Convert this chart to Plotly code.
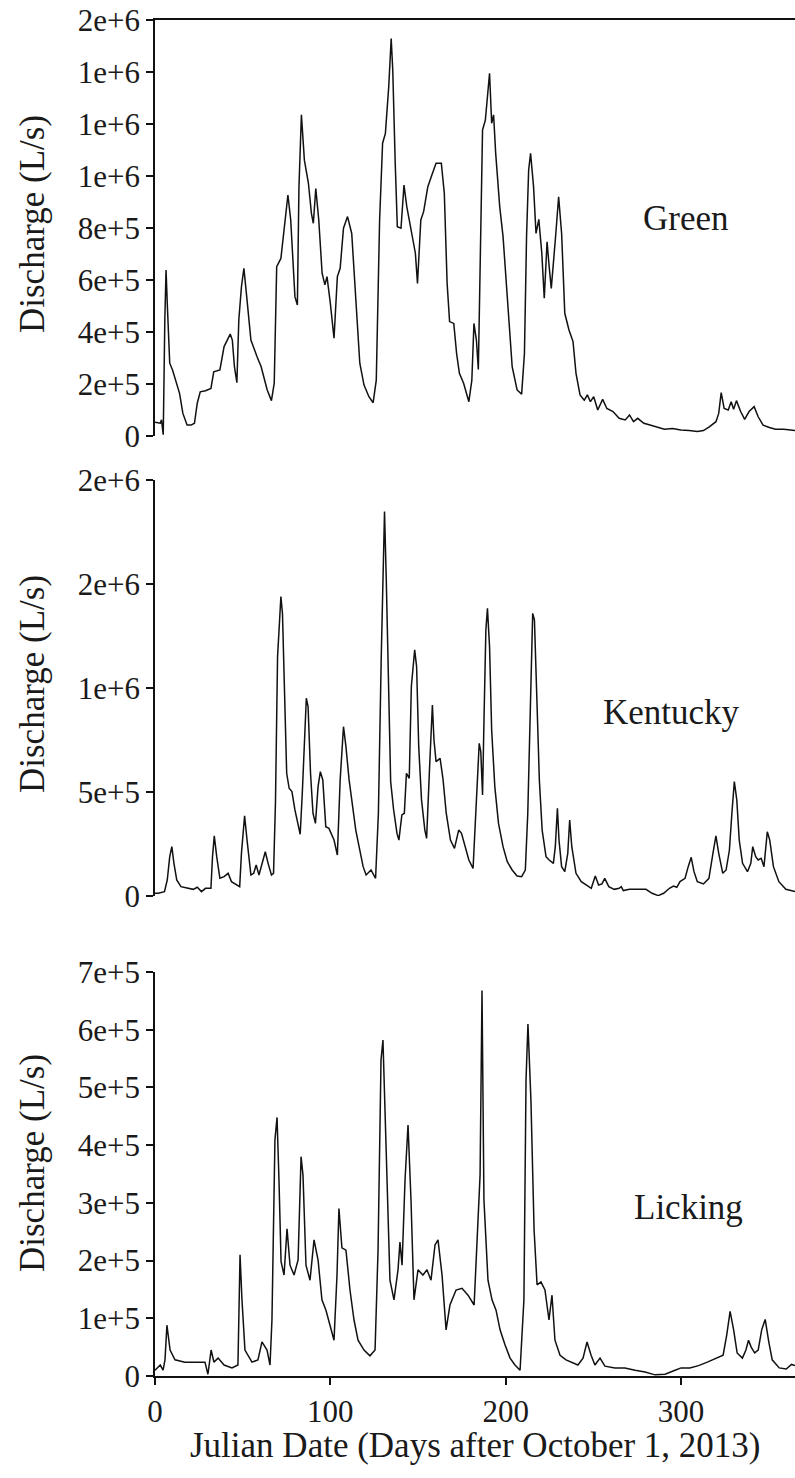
import plotly.graph_objects as go

# ---------------- data ----------------
green_day = [0, 3, 3.7, 4.7, 5.6, 6.3, 7, 8.4, 10, 12.4, 14, 15.9, 18.3, 20.6, 22.5, 24.1, 25.8, 28.8, 31.9,
             33.5, 37, 39.4, 41.3, 42.9, 44.1, 45.3, 46.7, 47.8, 49.3, 50.7, 52.3, 54.7, 58.2, 60.5, 64, 66.4,
             68, 69.4, 71.8, 73.4, 75.8, 77.4, 79.8, 81.2, 82.1, 83.5, 85.2, 87.5, 89.2, 90.3, 91.7, 93.4,
             95.3, 96.9, 98.1, 100, 102.1, 104, 105.6, 107.5, 109.8, 112.2, 114.5, 116.8, 119.2, 122, 124.4,
             126.2, 128.1, 129.8, 131.4, 133.3, 134.7, 135.6, 137, 138.2, 140.3, 142, 143.6, 145, 146.7,
             148.5, 149.7, 151.6, 153.2, 155.6, 157.9, 160.3, 163.3, 165, 166.6, 168, 170.4, 172, 173.6, 176,
             179, 180.7, 181.9, 183.3, 184.4, 185.6, 186.8, 188.4, 189.6, 190.8, 192, 193.1, 194.3, 196.6,
             198.5, 201.3, 203.7, 206.5, 209.1, 210.7, 211.9, 213.1, 214.2, 215.9, 217.3, 218.9, 220.6, 222,
             223.6, 224.8, 226, 228.3, 230.2, 231.9, 233.7, 236.1, 238.4, 240.1, 242.4, 244.8, 246.6, 248.3,
             250.2, 252.5, 255.3, 257.7, 261.2, 264.7, 268.2, 270.6, 272.9, 275.3, 278.8, 282.3, 285.8, 290.5,
             295.2, 299.9, 304.6, 309.3, 312.8, 316.3, 319.9, 321.5, 322.9, 324.6, 326.9, 328.6, 330, 331.6,
             334, 336.3, 338.8, 341.7, 344, 346.8, 350.4, 353.9, 358.6, 365]
green_q = [53e3, 49e3, 62e3, 5e3, 446e3, 638e3, 510e3, 280e3, 254e3, 203e3, 164e3, 87e3, 42e3, 42e3, 49e3,
           126e3, 170e3, 174e3, 183e3, 247e3, 254e3, 344e3, 369e3, 392e3, 369e3, 267e3, 205e3, 446e3, 574e3,
           645e3, 536e3, 369e3, 305e3, 267e3, 177e3, 136e3, 203e3, 651e3, 683e3, 779e3, 927e3, 831e3, 536e3,
           504e3, 959e3, 1235e3, 1061e3, 972e3, 856e3, 818e3, 952e3, 831e3, 626e3, 581e3, 613e3, 510e3,
           376e3, 613e3, 645e3, 799e3, 844e3, 779e3, 536e3, 280e3, 196e3, 151e3, 128e3, 215e3, 831e3,
           1126e3, 1164e3, 1343e3, 1529e3, 1408e3, 1049e3, 805e3, 799e3, 965e3, 882e3, 831e3, 767e3, 703e3,
           587e3, 831e3, 863e3, 959e3, 1004e3, 1049e3, 1049e3, 933e3, 587e3, 440e3, 433e3, 318e3, 241e3,
           203e3, 132e3, 215e3, 433e3, 369e3, 256e3, 767e3, 1177e3, 1215e3, 1305e3, 1395e3, 1203e3, 1235e3,
           1087e3, 882e3, 767e3, 497e3, 267e3, 177e3, 161e3, 318e3, 767e3, 1023e3, 1087e3, 959e3, 779e3,
           833e3, 703e3, 530e3, 747e3, 651e3, 568e3, 754e3, 920e3, 779e3, 472e3, 408e3, 363e3, 241e3, 158e3,
           138e3, 158e3, 132e3, 151e3, 100e3, 141e3, 106e3, 94e3, 68e3, 62e3, 81e3, 55e3, 68e3, 49e3, 42e3,
           36e3, 26e3, 29e3, 23e3, 21e3, 17e3, 21e3, 36e3, 55e3, 87e3, 167e3, 106e3, 100e3, 132e3, 103e3,
           136e3, 94e3, 64e3, 94e3, 113e3, 74e3, 42e3, 33e3, 26e3, 26e3, 21e3]

kentucky_day = [0, 1.8, 5.4, 7, 8.4, 9.6, 10.8, 12.4, 14.8, 18.3, 21.8, 24.1, 26.5, 28.8, 31.9, 32.8, 33.8,
                35.2, 37, 39.4, 41.7, 43.6, 46.4, 48.3, 49.3, 51.1, 52.5, 54.7, 56.3, 57.7, 59.3, 61, 62.9,
                64.5, 66.4, 67.6, 68.7, 69.9, 71.1, 71.8, 72.7, 73.9, 75.1, 76.5, 78.1, 79.8, 81.6, 82.8, 84,
                85.2, 86.3, 87.3, 88.7, 90.1, 91.5, 93, 94.3, 95.7, 97.4, 99.2, 100.4, 102.1, 104, 105.6, 107.5,
                108.9, 110.7, 112.6, 114.5, 116.8, 118.7, 120.4, 123.2, 125.8, 127.4, 129, 130, 130.9, 131.9,
                133.3, 134.4, 136.1, 138, 139.1, 140.8, 142.2, 143.4, 145, 146.2, 148.1, 149.2, 150.4, 152,
                153.9, 154.9, 156.7, 158.2, 159.1, 160.3, 162.6, 164.3, 166.1, 168.5, 170.8, 173.2, 174.8,
                176.7, 179, 181.4, 183, 184.2, 184.9, 185.8, 186.8, 187.7, 188.7, 189.6, 190.8, 192, 193.8,
                195.9, 198.5, 200.9, 203.7, 206.5, 209.1, 211.2, 212.6, 214, 215.4, 216.4, 217.8, 219.2, 220.8,
                223, 224.8, 227.2, 228.3, 229.5, 230.4, 231.9, 233.7, 235.4, 236.5, 237.7, 240.1, 243.1, 245.9,
                248.8, 251.1, 253, 254.9, 256.5, 258.8, 261.9, 264.7, 265.9, 267.1, 270.6, 275.3, 280, 283.5,
                287, 290.1, 293.4, 295.7, 297.6, 299.4, 302.3, 304.1, 305.8, 307.4, 309.3, 312.8, 315.9, 318.2,
                319.9, 321.5, 323.8, 325.7, 327.6, 329, 330.4, 331.8, 333.2, 335.1, 337.9, 339.8, 340.9, 342.6,
                344, 345.7, 347.3, 349.2, 350.6, 352.7, 355.8, 359.8, 365]
kentucky_q = [13e3, 13e3, 21e3, 77e3, 189e3, 237e3, 157e3, 77e3, 45e3, 37e3, 32e3, 42e3, 21e3, 37e3, 37e3,
              189e3, 289e3, 189e3, 85e3, 93e3, 109e3, 69e3, 53e3, 45e3, 205e3, 385e3, 269e3, 101e3, 109e3,
              149e3, 101e3, 157e3, 213e3, 157e3, 101e3, 109e3, 446e3, 1151e3, 1383e3, 1440e3, 1359e3, 959e3,
              590e3, 518e3, 502e3, 414e3, 333e3, 297e3, 494e3, 782e3, 951e3, 911e3, 590e3, 398e3, 349e3,
              526e3, 598e3, 558e3, 333e3, 325e3, 301e3, 269e3, 197e3, 558e3, 814e3, 718e3, 558e3, 430e3,
              317e3, 221e3, 141e3, 101e3, 125e3, 85e3, 398e3, 1135e3, 1512e3, 1848e3, 1520e3, 878e3, 550e3,
              414e3, 301e3, 269e3, 390e3, 398e3, 590e3, 566e3, 1007e3, 1183e3, 1103e3, 718e3, 462e3, 317e3,
              277e3, 638e3, 918e3, 750e3, 646e3, 662e3, 558e3, 398e3, 269e3, 229e3, 317e3, 301e3, 237e3,
              173e3, 133e3, 398e3, 558e3, 734e3, 694e3, 486e3, 878e3, 1279e3, 1383e3, 1199e3, 798e3, 526e3,
              349e3, 237e3, 165e3, 125e3, 96e3, 93e3, 125e3, 398e3, 878e3, 1359e3, 1327e3, 959e3, 558e3,
              317e3, 189e3, 173e3, 157e3, 237e3, 422e3, 269e3, 141e3, 117e3, 205e3, 365e3, 237e3, 109e3,
              69e3, 53e3, 37e3, 96e3, 53e3, 58e3, 85e3, 45e3, 32e3, 37e3, 45e3, 26e3, 32e3, 32e3, 32e3, 13e3,
              2e3, 13e3, 37e3, 48e3, 42e3, 69e3, 85e3, 141e3, 186e3, 117e3, 69e3, 58e3, 85e3, 205e3, 289e3,
              205e3, 109e3, 125e3, 221e3, 398e3, 550e3, 462e3, 269e3, 157e3, 117e3, 157e3, 237e3, 189e3,
              173e3, 181e3, 141e3, 309e3, 269e3, 141e3, 69e3, 32e3, 21e3]

licking_day = [0, 3, 4.6, 5.7, 6.8, 8.6, 11.4, 17, 22.8, 28.5, 30.2, 32, 33.6, 36, 39.4, 43.9, 47.3, 48.5,
               49.6, 51.3, 55.3, 58.7, 61, 63.9, 65.6, 66.7, 68.4, 69.6, 70.7, 71.9, 73.6, 75.3, 77, 79.3,
               81.6, 83.3, 84.4, 86.1, 88.4, 90.7, 93, 95.2, 97.5, 99.8, 102.1, 103.8, 104.9, 106.6, 108.9,
               111.2, 113.5, 115.8, 119.2, 122.6, 125.5, 127.2, 128.9, 130, 131.7, 134, 136.3, 138.6, 139.7,
               140.9, 142.6, 144.3, 146, 147.7, 150, 152.8, 155.1, 157.4, 159.7, 161.4, 163.7, 166, 168.2,
               171.7, 175.1, 178.5, 182, 183.6, 185.4, 186.5, 187.6, 189.9, 192.2, 194.5, 196.8, 199.6, 202.5,
               205.3, 208.2, 210.4, 211.6, 212.7, 214.4, 216.2, 217.9, 220.1, 222.4, 224.7, 226.4, 228.1, 231,
               234.4, 237.8, 241.2, 244.1, 246.4, 248.7, 250.9, 253.8, 256.6, 262.3, 268, 273.8, 279.5, 285.2,
               290.9, 296.6, 300, 305, 310, 315, 320, 324, 326, 328, 330, 332, 335, 337, 338.5, 340, 342, 344,
               346, 348, 350, 352, 356, 360, 363, 365]
licking_q = [10e3, 19e3, 10e3, 28e3, 88e3, 45e3, 28e3, 24e3, 24e3, 24e3, 3e3, 45e3, 24e3, 31e3, 19e3, 14e3,
             19e3, 210e3, 132e3, 45e3, 24e3, 28e3, 59e3, 45e3, 19e3, 97e3, 409e3, 448e3, 340e3, 198e3, 175e3,
             255e3, 192e3, 175e3, 201e3, 380e3, 348e3, 192e3, 166e3, 236e3, 201e3, 132e3, 114e3, 88e3, 62e3,
             175e3, 290e3, 222e3, 218e3, 149e3, 97e3, 62e3, 45e3, 35e3, 45e3, 218e3, 548e3, 582e3, 392e3,
             166e3, 132e3, 184e3, 232e3, 192e3, 340e3, 435e3, 305e3, 132e3, 184e3, 175e3, 184e3, 166e3,
             227e3, 236e3, 175e3, 80e3, 123e3, 149e3, 152e3, 140e3, 123e3, 218e3, 348e3, 668e3, 305e3, 166e3,
             132e3, 114e3, 80e3, 54e3, 31e3, 19e3, 10e3, 132e3, 513e3, 610e3, 478e3, 253e3, 158e3, 163e3,
             149e3, 97e3, 140e3, 62e3, 36e3, 28e3, 24e3, 19e3, 31e3, 59e3, 36e3, 19e3, 31e3, 17e3, 14e3, 14e3,
             10e3, 7e3, 2e3, 3e3, 10e3, 14e3, 14e3, 18e3, 24e3, 30e3, 36e3, 70e3, 112e3, 80e3, 40e3, 31e3,
             45e3, 62e3, 50e3, 40e3, 45e3, 80e3, 98e3, 60e3, 28e3, 14e3, 12e3, 20e3, 18e3]

rivers = ["Green", "Kentucky", "Licking"]

green_ticks = [0, 2e5, 4e5, 6e5, 8e5, 1.0e6, 1.2e6, 1.4e6, 1.6e6]
green_ticktext = ["0", "2e+5", "4e+5", "6e+5", "8e+5", "1e+6", "1e+6", "1e+6", "2e+6"]
kentucky_ticks = [0, 5e5, 1.0e6, 1.5e6, 2.0e6]
kentucky_ticktext = ["0", "5e+5", "1e+6", "2e+6", "2e+6"]
licking_ticks = [0, 1e5, 2e5, 3e5, 4e5, 5e5, 6e5, 7e5]
licking_ticktext = ["0", "1e+5", "2e+5", "3e+5", "4e+5", "5e+5", "6e+5", "7e+5"]
x_ticks = [0, 100, 200, 300]

y_title = "Discharge (L/s)"
x_title = "Julian Date (Days after October 1, 2013)"

# ---------------- layout geometry ----------------
W, H = 795, 1478
ML, MR, MT, MB = 155, 0, 20, 102
PH = H - MT - MB  # plot-area height in px


def fy(px):
    return (1376 - px) / PH


def fx(px):
    return (px - ML) / (W - ML - MR)


FONT = "Liberation Serif, Times New Roman, serif"
TXT = "#1a1a1a"
LINE = "#111111"

fig = go.Figure()
series = [(green_day, green_q, "y"), (kentucky_day, kentucky_q, "y2"), (licking_day, licking_q, "y3")]
xs = ["x", "x2", "x3"]
for (d, q, ya), xa, name in zip(series, xs, rivers):
    fig.add_trace(go.Scatter(x=d, y=q, mode="lines", xaxis=xa, yaxis=ya, name=name,
                             line=dict(color=LINE, width=1.5), showlegend=False, cliponaxis=False))

yaxis_common = dict(showline=True, linecolor=LINE, linewidth=1.5, ticks="outside", ticklen=7,
                    tickwidth=1.5, tickcolor=LINE, showgrid=False, zeroline=False, automargin=False,
                    tickfont=dict(family=FONT, size=31, color=TXT))

fig.update_layout(
    width=W, height=H,
    margin=dict(l=ML, r=MR, t=MT, b=MB, autoexpand=False),
    paper_bgcolor="white", plot_bgcolor="white",
    # top panel (Green)
    xaxis=dict(domain=[0, 1], range=[0, 365], anchor="y", side="top", showline=True, linecolor=LINE,
               linewidth=1.5, showticklabels=False, ticks="", showgrid=False, zeroline=False,
               automargin=False),
    yaxis=dict(domain=[fy(436), fy(20)], range=[0, 1.6e6], anchor="x", tickvals=green_ticks,
               ticktext=green_ticktext, **yaxis_common),
    # middle panel (Kentucky)
    xaxis2=dict(domain=[0, 1], range=[0, 365], anchor="y2", showline=False, showticklabels=False,
                ticks="", showgrid=False, zeroline=False, automargin=False),
    yaxis2=dict(domain=[fy(896), fy(480)], range=[0, 2.0e6], anchor="x2", tickvals=kentucky_ticks,
                ticktext=kentucky_ticktext, **yaxis_common),
    # bottom panel (Licking)
    xaxis3=dict(domain=[0, 1], range=[0, 365], anchor="y3", showline=True, linecolor=LINE, linewidth=1.5,
                ticks="outside", ticklen=7, tickwidth=1.5, tickcolor=LINE, tickvals=x_ticks,
                showgrid=False, zeroline=False, automargin=False,
                tickfont=dict(family=FONT, size=31, color=TXT)),
    yaxis3=dict(domain=[fy(1376), fy(972)], range=[0, 7e5], anchor="x3", tickvals=licking_ticks,
                ticktext=licking_ticktext, **yaxis_common),
)

annots = []
for name, (cx, cy) in zip(rivers, [(686, 218), (671, 712), (688, 1207)]):
    annots.append(dict(text=name, x=fx(cx), y=fy(cy), xref="paper", yref="paper", showarrow=False,
                       xanchor="center", yanchor="middle", font=dict(family=FONT, size=35, color=TXT)))
for cy in [224, 684, 1163]:
    annots.append(dict(text=y_title, x=fx(32), y=fy(cy), xref="paper", yref="paper", showarrow=False,
                       textangle=-90, xanchor="center", yanchor="middle",
                       font=dict(family=FONT, size=35, color=TXT)))
annots.append(dict(text=x_title, x=fx(475), y=fy(1446), xref="paper", yref="paper", showarrow=False,
                   xanchor="center", yanchor="middle", font=dict(family=FONT, size=35, color=TXT)))
fig.update_layout(annotations=annots)

fig.write_html("out.html", config={"displayModeBar": False},
               post_script="document.body.style.margin='0px';document.body.style.overflow='hidden';")
